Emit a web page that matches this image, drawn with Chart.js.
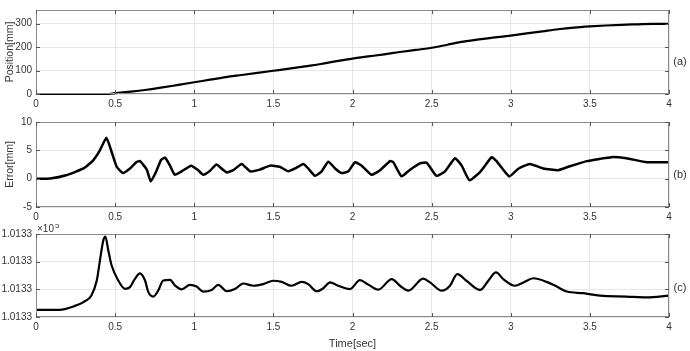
<!DOCTYPE html>
<html>
<head>
<meta charset="utf-8">
<script src="https://cdn.jsdelivr.net/npm/chart.js@4.4.0/dist/chart.umd.min.js"></script>
<style>
  body { margin: 0; background: #fff; }
  #wrap { position: relative; width: 690px; height: 351px; }
  canvas { position: absolute; left: 0; }
</style>
</head>
<body>
<div id="wrap">
  <canvas id="c1" width="690" height="112" style="top:0px"></canvas>
  <canvas id="c2" width="690" height="112" style="top:112px"></canvas>
  <canvas id="c3" width="690" height="127" style="top:224px"></canvas>
</div>
<script>
// (a) position
var posT = [0, 0.1, 0.2, 0.3, 0.4, 0.45, 0.5, 0.6, 0.7, 0.8, 0.9, 1.0, 1.1, 1.2, 1.3, 1.4, 1.5, 1.6, 1.7, 1.8, 1.9, 2.0,
            2.1, 2.2, 2.3, 2.4, 2.5, 2.6, 2.7, 2.8, 2.9, 3.0, 3.1, 3.2, 3.3, 3.4, 3.5, 3.6, 3.7, 3.8, 3.9, 4.0];
var position = [0, 0, 0, 0, 0, 0, 4, 10, 18, 28, 39, 50, 61, 72, 81, 90, 99, 108, 118, 128, 140, 151,
                160, 169, 179, 188, 197, 210, 223, 233, 241, 249, 258, 267, 276, 283, 288, 292, 295, 297, 299, 299];

// (b) error
var errT = [0, 0.09, 0.19, 0.30, 0.36, 0.40, 0.445, 0.477, 0.51, 0.55, 0.594, 0.634, 0.657, 0.70, 0.725, 0.76, 0.79,
            0.815, 0.845, 0.876, 0.92, 0.98, 1.02, 1.057, 1.10, 1.14, 1.18, 1.205, 1.247, 1.30, 1.352, 1.414, 1.479,
            1.54, 1.594, 1.637, 1.69, 1.72, 1.763, 1.805, 1.847, 1.89, 1.93, 1.974, 2.016, 2.058, 2.12, 2.174, 2.237,
            2.258, 2.31, 2.36, 2.427, 2.469, 2.53, 2.585, 2.648, 2.69, 2.74, 2.81, 2.88, 2.91, 2.99, 3.05, 3.12,
            3.205, 3.30, 3.374, 3.48, 3.564, 3.638, 3.73, 3.86, 4.0];
var error = [0, 0.05, 0.6, 1.8, 3.2, 4.8, 7.2, 4.8, 2.1, 1.0, 1.8, 2.9, 3.1, 1.6, -0.5, 1.3, 3.3,
             3.7, 2.4, 0.7, 1.3, 2.3, 1.6, 0.7, 1.4, 2.5, 1.6, 1.1, 1.5, 2.6, 1.3, 1.6, 2.3,
             2.1, 1.3, 1.8, 2.6, 1.8, 0.5, 1.3, 3.0, 1.8, 1.0, 1.3, 2.9, 2.3, 0.7, 1.5, 3.1,
             2.9, 0.4, 1.5, 2.7, 2.8, 0.5, 1.3, 3.6, 2.3, -0.3, 1.3, 3.8, 3.1, 0.4, 1.8, 2.6,
             1.8, 1.5, 2.2, 3.1, 3.5, 3.8, 3.6, 2.9, 2.9];

// (c) pressure, in tick steps above the bottom tick (all ticks read 1.0133 x10^5)
var presT = [0, 0.15, 0.236, 0.30, 0.35, 0.384, 0.404, 0.425, 0.438, 0.457, 0.478, 0.52, 0.562, 0.594, 0.625, 0.657,
             0.689, 0.71, 0.741, 0.773, 0.804, 0.847, 0.878, 0.92, 0.973, 1.015, 1.057, 1.11, 1.152, 1.205, 1.257,
             1.31, 1.373, 1.436, 1.50, 1.552, 1.616, 1.679, 1.72, 1.774, 1.816, 1.858, 1.91, 1.984, 2.047, 2.10,
             2.163, 2.248, 2.30, 2.353, 2.447, 2.49, 2.564, 2.616, 2.662, 2.72, 2.806, 2.858, 2.907, 2.953, 3.027,
             3.08, 3.143, 3.227, 3.29, 3.354, 3.458, 3.564, 3.73, 3.86, 4.0];
var pressure = [0.26, 0.26, 0.38, 0.54, 0.78, 1.32, 2.04, 2.76, 2.91, 2.40, 1.86, 1.32, 1.02, 1.08, 1.38, 1.58,
                1.32, 0.9, 0.74, 0.96, 1.32, 1.34, 1.14, 1.0, 1.16, 1.1, 0.92, 0.98, 1.16, 0.93, 1.01,
                1.21, 1.13, 1.19, 1.31, 1.27, 1.13, 1.27, 1.19, 0.93, 1.04, 1.25, 1.13, 1.01, 1.33, 1.17,
                0.99, 1.37, 1.13, 0.95, 1.39, 1.25, 0.95, 1.13, 1.55, 1.31, 0.98, 1.31, 1.61, 1.37, 1.13,
                1.25, 1.40, 1.27, 1.10, 0.92, 0.86, 0.77, 0.74, 0.71, 0.77];
var presTickLabels = ['1.0133', '1.0133', '1.0133', '1.0133'];

var panelTags = ['(a)', '(b)', '(c)'];

var FONT = "'Liberation Sans', Arial, sans-serif";

function pairs(xs, ys) {
    var out = [];
    for (var i = 0; i < xs.length; i++) out.push({x: xs[i], y: ys[i]});
    return out;
}

// MATLAB style box with inward ticks, plus panel tag on the right
var boxPlugin = {
    id: 'box',
    afterDatasetsDraw: function (chart, args, opts) {
        var a = chart.chartArea, ctx = chart.ctx;
        var xs = chart.scales.x, ys = chart.scales.y;
        ctx.save();
        ctx.strokeStyle = '#8a8a8a';
        ctx.lineWidth = 1;
        ctx.strokeRect(a.left + 0.5, a.top + 0.5, a.right - a.left - 1, a.bottom - a.top - 1);
        ctx.strokeStyle = '#555';
        ctx.beginPath();
        xs.ticks.forEach(function (t) {
            var px = Math.round(xs.getPixelForValue(t.value)) + 0.5;
            ctx.moveTo(px, a.bottom); ctx.lineTo(px, a.bottom - 4);
            ctx.moveTo(px, a.top); ctx.lineTo(px, a.top + 4);
        });
        ys.ticks.forEach(function (t) {
            var py = Math.round(ys.getPixelForValue(t.value)) + 0.5;
            ctx.moveTo(a.left, py); ctx.lineTo(a.left + 4, py);
            ctx.moveTo(a.right, py); ctx.lineTo(a.right - 4, py);
        });
        ctx.stroke();
        ctx.fillStyle = '#333';
        ctx.font = '11px ' + FONT;
        ctx.textAlign = 'center';
        ctx.textBaseline = 'middle';
        ctx.fillText(opts.tag, 680, a.top + (a.bottom - a.top) * opts.tagPos);
        if (opts.exponent) {
            ctx.textAlign = 'left';
            ctx.textBaseline = 'alphabetic';
            ctx.font = '10px ' + FONT;
            ctx.fillText('\u00d710', a.left + 1, a.top - 2);
            var w = ctx.measureText('\u00d710').width;
            ctx.font = '8px ' + FONT;
            ctx.fillText('5', a.left + 2 + w, a.top - 6);
        }
        ctx.restore();
    }
};

function makeChart(id, opt) {
    return new Chart(document.getElementById(id), {
        type: 'line',
        data: {
            datasets: [{
                data: opt.data,
                borderColor: '#000',
                borderWidth: opt.width || 2.2,
                pointRadius: 0,
                tension: opt.tension || 0,
                cubicInterpolationMode: opt.smooth ? 'monotone' : 'default',
                clip: 3,
                fill: false
            }]
        },
        options: {
            responsive: false,
            animation: false,
            layout: { padding: { top: opt.padTop, right: 21, left: 0, bottom: 0 } },
            plugins: {
                legend: { display: false },
                tooltip: { enabled: false },
                box: { tag: opt.tag, tagPos: opt.tagPos, exponent: !!opt.exponent }
            },
            scales: {
                x: {
                    type: 'linear',
                    min: 0, max: 4,
                    afterFit: function (s) { s.height = opt.xHeight; },
                    ticks: { stepSize: 0.5, padding: 4, color: '#333', font: { family: FONT, size: 10 },
                             maxRotation: 0, autoSkip: false,
                             callback: function (v) { return String(Math.round(v * 10) / 10); } },
                    grid: { color: '#e6e6e6', drawTicks: false },
                    border: { display: false },
                    title: { display: !!opt.xTitle, text: opt.xTitle || '', color: '#333',
                             font: { family: FONT, size: 11 }, padding: { top: 1, bottom: 0 } }
                },
                y: {
                    min: opt.yMin, max: opt.yMax,
                    afterFit: function (s) { s.width = 36; },
                    afterBuildTicks: opt.filterTicks || undefined,
                    ticks: { stepSize: opt.yStep, padding: 4, color: '#333', font: { family: FONT, size: 10 },
                             callback: opt.yLabel || function (v) { return v; } },
                    grid: { color: '#e6e6e6', drawTicks: false },
                    border: { display: false },
                    title: { display: !!opt.yTitle, text: opt.yTitle || '', color: '#333',
                             font: { family: FONT, size: 10.5 }, padding: { top: 4, bottom: 2 } }
                }
            }
        },
        plugins: [boxPlugin]
    });
}

makeChart('c1', {
    data: pairs(posT, position), padTop: 7, xHeight: 18,
    yMin: 0, yMax: 358, yStep: 100, yTitle: 'Position[mm]', smooth: true,
    filterTicks: function (s) { s.ticks = s.ticks.filter(function (t) { return t.value % 100 === 0; }); },
    tag: panelTags[0], tagPos: 0.62
});

makeChart('c2', {
    data: pairs(errT, error), padTop: 2, xHeight: 17,
    yMin: -5, yMax: 10, yStep: 5, yTitle: 'Error[mm]', width: 2.5, tension: 0.15,
    tag: panelTags[1], tagPos: 0.62
});

makeChart('c3', {
    data: pairs(presT, pressure), padTop: 9, xHeight: 34,
    yMin: 0, yMax: 3, yStep: 1, xTitle: 'Time[sec]', smooth: true,
    yLabel: function (v, i) { return presTickLabels[i]; },
    tag: panelTags[2], tagPos: 0.65, exponent: true
});
</script>
</body>
</html>
